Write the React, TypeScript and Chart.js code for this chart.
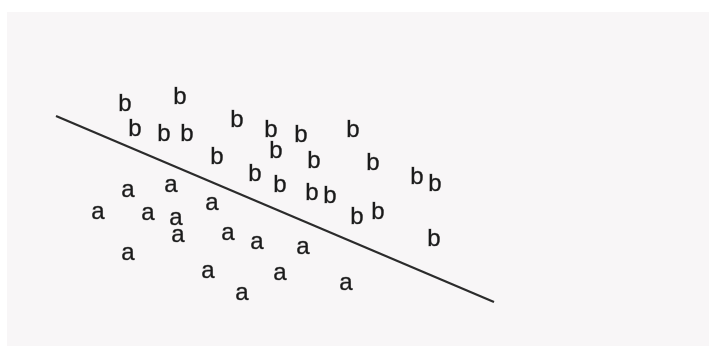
import React, { useEffect, useRef } from "react";
import { Chart, registerables } from "chart.js";

Chart.register(...registerables);

// Values (x to the right, y upward), frame 709 x 353
const bX = [125, 180, 135, 164, 187, 237, 271, 301, 353, 217, 276, 314, 373, 255, 280, 312, 330, 417, 435, 357, 378, 434];
const bY = [251, 258, 226, 221, 221, 235, 225, 220, 225, 198, 204, 194, 192, 181, 170, 162, 159, 178, 171, 138, 143, 116];

const aX = [128, 171, 98, 148, 176, 212, 178, 228, 257, 303, 128, 208, 280, 242, 346];
const aY = [163, 168, 141, 140, 135, 150, 118, 120, 111, 106, 100, 82, 80, 60, 70];

const lineX = [56, 494];
const lineY = [237, 51];

const labelA = "a";
const labelB = "b";

function glyph(ch: string): HTMLCanvasElement {
  const c = document.createElement("canvas");
  const W = 28;
  const H = 34;
  c.width = W;
  c.height = H;
  const ctx = c.getContext("2d")!;
  ctx.font = '24px "Liberation Sans", Arial, sans-serif';
  ctx.fillStyle = "#1a1a1a";
  ctx.strokeStyle = "rgba(26,26,26,0.55)";
  ctx.lineWidth = 0.6;
  ctx.textAlign = "center";
  ctx.textBaseline = "alphabetic";
  const m = ctx.measureText(ch);
  const base = H / 2 + (m.actualBoundingBoxAscent - m.actualBoundingBoxDescent) / 2;
  ctx.fillText(ch, W / 2, base);
  ctx.strokeText(ch, W / 2, base);
  return c;
}

export default function App() {
  const ref = useRef<HTMLCanvasElement | null>(null);

  useEffect(() => {
    if (!ref.current) return;
    const ga = glyph(labelA);
    const gb = glyph(labelB);
    const chart = new Chart(ref.current, {
      type: "scatter",
      data: {
        datasets: [
          {
            label: "line",
            data: lineX.map((x, i) => ({ x, y: lineY[i] })),
            showLine: true,
            borderColor: "#2b2b2b",
            borderWidth: 2.2,
            pointRadius: 0,
            fill: false,
          },
          {
            label: labelB,
            data: bX.map((x, i) => ({ x, y: bY[i] })),
            pointStyle: gb as any,
            pointRadius: 10,
          },
          {
            label: labelA,
            data: aX.map((x, i) => ({ x, y: aY[i] })),
            pointStyle: ga as any,
            pointRadius: 10,
          },
        ],
      },
      options: {
        animation: false,
        responsive: false,
        maintainAspectRatio: false,
        layout: { padding: 0, autoPadding: false },
        plugins: { legend: { display: false }, tooltip: { enabled: false } },
        scales: {
          x: { type: "linear", min: 0, max: 709, display: false },
          y: { type: "linear", min: 0, max: 353, display: false },
        },
      },
    });
    return () => chart.destroy();
  }, []);

  return (
    <div style={{ position: "fixed", left: 0, top: 0, width: 709, height: 353, background: "#ffffff" }}>
      <div style={{ position: "absolute", left: 7, top: 12, width: 702, height: 334, background: "#f8f6f7" }} />
      <canvas ref={ref} width={709} height={353} style={{ position: "absolute", left: 0, top: 0, width: 709, height: 353 }} />
    </div>
  );
}
